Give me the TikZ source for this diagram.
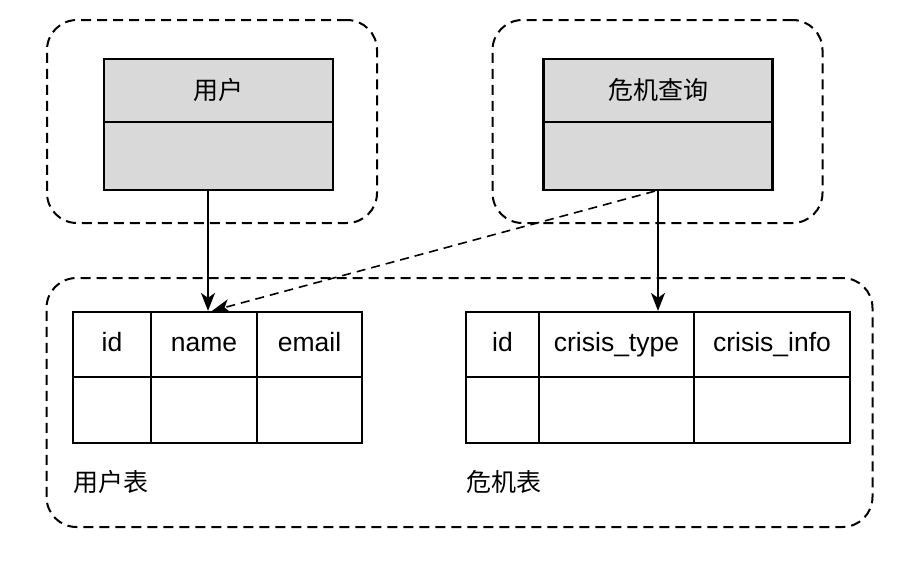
\documentclass[tikz,border=0pt]{standalone}
\usepackage{fontspec}
\setmainfont{Liberation Sans}
\newfontfamily\cjk{Noto Sans CJK SC}
\usetikzlibrary{arrows.meta}
\begin{document}
\begin{tikzpicture}[x=1pt,y=-1pt,
  grp/.style={draw, dash pattern=on 10pt off 6pt, line width=2pt, rounded corners=30pt, inner sep=0pt},
  cls/.style={draw, line width=2.2pt, fill=gray!30, minimum width=229pt, inner sep=0pt, font=\cjk\fontsize{25}{30}\selectfont},
  cell/.style={draw, line width=2.2pt, inner sep=0pt, text height=19pt, text depth=5pt, font=\fontsize{26.5}{30}\selectfont},
  lbl/.style={inner sep=0pt, anchor=west, font=\cjk\fontsize{25}{30}\selectfont},
  arr/.style={line width=1.6pt, -{Stealth[length=18pt,width=14pt,inset=5pt]}},
]
\useasboundingbox (0,0) rectangle (906,568);
% groups
\node[grp, minimum width=330pt, minimum height=203pt] (g1) at (212,121.5) {};
\node[grp, minimum width=330pt, minimum height=203pt] (g2) at (657.5,121.5) {};
\node[grp, minimum width=826pt, minimum height=249pt] (g3) at (459.5,402.5) {};
% classes
\node[cls, minimum height=63pt] (u1) at (218.5,90.5) {用户};
\node[cls, minimum height=68pt] (u2) at (218.5,156) {};
\node[cls, minimum height=63pt] (q1) at (658,90.5) {危机查询};
\node[cls, minimum height=68pt] (q2) at (658,156) {};
% table 1
\node[cell, minimum width=78pt, minimum height=65pt] (t1i) at (112,344.5) {id};
\node[cell, minimum width=106pt, minimum height=65pt] (t1n) at (204,344.5) {name};
\node[cell, minimum width=105pt, minimum height=65pt] (t1e) at (309.5,344.5) {email};
\node[cell, minimum width=78pt, minimum height=66pt] (t1a) at (112,410) {};
\node[cell, minimum width=106pt, minimum height=66pt] (t1b) at (204,410) {};
\node[cell, minimum width=105pt, minimum height=66pt] (t1c) at (309.5,410) {};
% table 2
\node[cell, minimum width=73pt, minimum height=65pt] (t2i) at (502.5,344.5) {id};
\node[cell, minimum width=155pt, minimum height=65pt] (t2t) at (616.5,344.5) {crisis\_type};
\node[cell, minimum width=156pt, minimum height=65pt] (t2f) at (772,344.5) {crisis\_info};
\node[cell, minimum width=73pt, minimum height=66pt] (t2a) at (502.5,410) {};
\node[cell, minimum width=155pt, minimum height=66pt] (t2b) at (616.5,410) {};
\node[cell, minimum width=156pt, minimum height=66pt] (t2c) at (772,410) {};
% labels
\node[lbl] (l1) at (73,482) {用户表};
\node[lbl] (l2) at (466,482) {危机表};
% connectors
\coordinate (a1) at (208,0);
\path (t1n.north -| a1) ++(4,0) coordinate (d1);
\draw[arr] (u2.south -| a1) -- (t1n.north -| a1);
\draw[arr] (q2.south) -- (q2.south |- t2t.north);
\draw[arr, dash pattern=on 9pt off 6pt] ([xshift=-3pt]q2.south) -- (d1);
\end{tikzpicture}
\end{document}
